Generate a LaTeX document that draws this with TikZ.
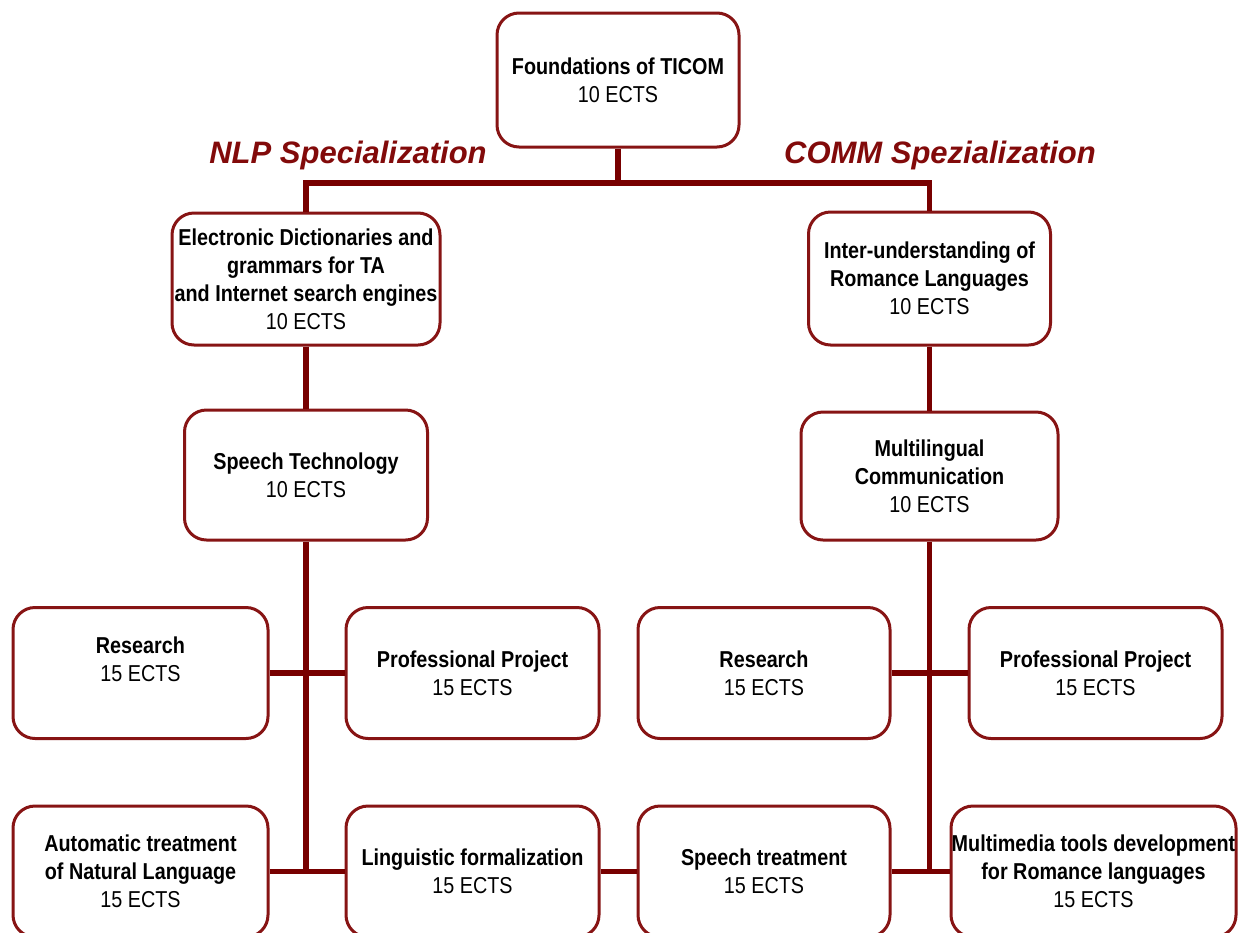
\documentclass[tikz,border=0pt]{standalone}
\usepackage{fontspec}
\setmainfont{Liberation Sans}
\newfontfamily\boxfont{Liberation Sans}[FakeStretch=0.86]
\newfontfamily\headfont{Liberation Sans}
\definecolor{bordercol}{RGB}{135,20,20}
\definecolor{linkcol}{RGB}{120,0,0}
\definecolor{headcol}{RGB}{130,10,10}
\begin{document}
\begin{tikzpicture}[x=1pt,y=-1pt,
  box/.style={draw=bordercol, line width=3pt, rounded corners=22pt, fill=white,
    align=center, inner sep=0pt, text=black,
    font=\boxfont\fontsize{23}{28}\selectfont},
  link/.style={draw=linkcol, line width=5.5pt},
  head/.style={font=\headfont\fontsize{31}{36}\selectfont\bfseries\itshape,
    text=headcol, anchor=base, inner sep=0pt}]
\useasboundingbox (0,0) rectangle (1238,932);
\clip (0,0) rectangle (1238,932);
\fill[white] (0,0) rectangle (1238,932);

% headings
\node[head] (hnlp) at (348,163) {NLP Specialization};
\node[head] (hcomm) at (940,163) {COMM Spezialization};

% boxes
\node[box, minimum width=242pt, minimum height=134pt] (top) at (618,80)
  {\textbf{Foundations of TICOM}\\10 ECTS};
\node[box, minimum width=268pt, minimum height=132pt] (e1) at (306,279)
  {\textbf{Electronic Dictionaries and}\\\textbf{grammars for TA}\\\textbf{and Internet search engines}\\10 ECTS};
\node[box, minimum width=242pt, minimum height=133pt] (c1) at (929.5,278.5)
  {\textbf{Inter-understanding of}\\\textbf{Romance Languages}\\10 ECTS};
\node[box, minimum width=243pt, minimum height=130pt] (e2) at (306,475)
  {\textbf{Speech Technology}\\10 ECTS};
\node[box, minimum width=257pt, minimum height=128pt] (c2) at (929.5,476)
  {\textbf{Multilingual}\\\textbf{Communication}\\10 ECTS};

\node[box, minimum width=255pt, minimum height=131pt] (r1) at (140.5,673)
  {\textbf{Research}\\15 ECTS\\\mbox{}};
\node[box, minimum width=253pt, minimum height=131pt] (p1) at (472.5,673)
  {\textbf{Professional Project}\\15 ECTS};
\node[box, minimum width=252pt, minimum height=131pt] (r2) at (764,673)
  {\textbf{Research}\\15 ECTS};
\node[box, minimum width=253pt, minimum height=131pt] (p2) at (1095.5,673)
  {\textbf{Professional Project}\\15 ECTS};

\node[box, minimum width=255pt, minimum height=131pt] (a) at (140.5,871.5)
  {\textbf{Automatic treatment}\\\textbf{of Natural Language}\\15 ECTS};
\node[box, minimum width=253pt, minimum height=131pt] (l) at (472.5,871.5)
  {\textbf{Linguistic formalization}\\15 ECTS};
\node[box, minimum width=252pt, minimum height=131pt] (s) at (764,871.5)
  {\textbf{Speech treatment}\\15 ECTS};
\node[box, minimum width=285pt, minimum height=131pt] (m) at (1093.5,871.5)
  {\textbf{Multimedia tools development}\\\textbf{for Romance languages}\\15 ECTS};

% connectors
\coordinate (jt) at (618,183);
\draw[link] (top.south) -- (jt);
\draw[link] (e1.north) |- (jt) -| (c1.north);
\draw[link] (e1.south) -- (e2.north);
\draw[link] (c1.south) -- (c2.north);
\draw[link] (e2.south) -- (e2.south |- a.east);
\draw[link] (c2.south) -- (c2.south |- s.east);
\draw[link] (r1.east) -- (p1.west);
\draw[link] (r2.east) -- (p2.west);
\draw[link] (a.east) -- (l.west);
\draw[link] (l.east) -- (s.west);
\draw[link] (s.east) -- (m.west);
\end{tikzpicture}
\end{document}
